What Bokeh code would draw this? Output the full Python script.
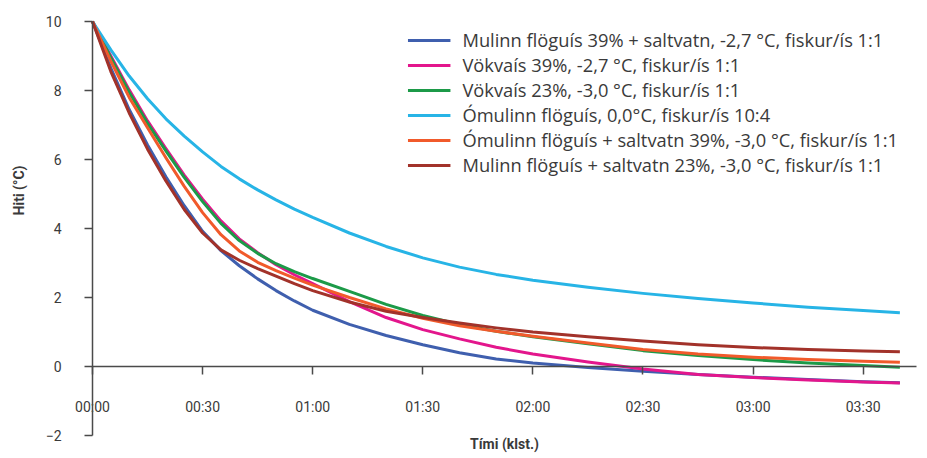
import math
from bokeh.plotting import figure
from bokeh.models import Range1d, FixedTicker, Legend, LegendItem, Label
from bokeh.embed import file_html
from bokeh.resources import INLINE

# time in minutes since start
time_min = [0, 5, 10, 15, 20, 25, 30, 35, 40, 45, 50, 55, 60, 70, 80, 90, 100,
            110, 120, 135, 150, 165, 180, 195, 210, 220]

series_labels = [
    "Mulinn flöguís 39% + saltvatn, -2,7 °C, fiskur/ís 1:1",
    "Vökvaís 39%, -2,7 °C, fiskur/ís 1:1",
    "Vökvaís 23%, -3,0 °C, fiskur/ís 1:1",
    "Ómulinn flöguís, 0,0°C, fiskur/ís 10:4",
    "Ómulinn flöguís + saltvatn 39%, -3,0 °C, fiskur/ís 1:1",
    "Mulinn flöguís + saltvatn 23%, -3,0 °C, fiskur/ís 1:1",
]

mulinn_39 = [10, 8.65, 7.45, 6.42, 5.5, 4.66, 3.92, 3.36, 2.92, 2.54, 2.2, 1.9, 1.63,
             1.22, 0.9, 0.63, 0.4, 0.22, 0.1, -0.03, -0.14, -0.23, -0.31, -0.38,
             -0.44, -0.47]
vokvais_39 = [10, 9.0, 8.02, 7.12, 6.32, 5.55, 4.85, 4.22, 3.7, 3.3, 2.95, 2.66, 2.4,
              1.88, 1.42, 1.07, 0.8, 0.56, 0.36, 0.13, -0.07, -0.23, -0.32, -0.39,
              -0.45, -0.48]
vokvais_23 = [10, 8.95, 7.95, 7.05, 6.25, 5.48, 4.78, 4.15, 3.65, 3.28, 2.98, 2.75, 2.55,
              2.18, 1.8, 1.48, 1.22, 1.02, 0.86, 0.66, 0.46, 0.32, 0.2, 0.1, 0.03,
              -0.02]
omulinn_0 = [10, 9.18, 8.42, 7.76, 7.18, 6.68, 6.22, 5.8, 5.44, 5.12, 4.83, 4.56, 4.32,
             3.87, 3.48, 3.15, 2.88, 2.67, 2.5, 2.3, 2.12, 1.97, 1.84, 1.72,
             1.62, 1.56]
omulinn_39 = [10, 8.85, 7.8, 6.92, 6.05, 5.22, 4.46, 3.82, 3.35, 3.02, 2.78, 2.56, 2.36,
              2.0, 1.67, 1.4, 1.18, 1.02, 0.88, 0.68, 0.49, 0.36, 0.27, 0.2, 0.15,
              0.12]
mulinn_23 = [10, 8.55, 7.35, 6.3, 5.38, 4.55, 3.87, 3.38, 3.08, 2.84, 2.62, 2.4, 2.2,
             1.87, 1.6, 1.42, 1.26, 1.12, 1.0, 0.86, 0.74, 0.63, 0.55, 0.49, 0.45,
             0.43]

series_values = [mulinn_39, vokvais_39, vokvais_23, omulinn_0, omulinn_39, mulinn_23]
series_colors = ["#3f5fae", "#e3168c", "#1c9a48", "#27b4e6", "#f15a2b", "#a2322a"]

x_tick_values = [0, 30, 60, 90, 120, 150, 180, 210]
x_tick_labels = ["00:00", "00:30", "01:00", "01:30", "02:00", "02:30", "03:00", "03:30"]
y_tick_values = [-2, 0, 2, 4, 6, 8, 10]
y_tick_labels = ["\u22122", "0", "2", "4", "6", "8", "10"]

x_title = "Tími (klst.)"
y_title = "Hiti (°C)"

FONT = "Roboto"
TEXT_COLOR = "#3a3a3a"
AXIS_COLOR = "#4a4a4a"

# the frame fills the whole figure; both axes sit at fixed data positions
p = figure(width=925, height=455,
           x_range=Range1d(-25.07, 226.98), y_range=Range1d(-2.58, 10.61),
           output_backend="svg", toolbar_location=None,
           min_border_left=0, min_border_top=0, min_border_right=0,
           min_border_bottom=0)
p.outline_line_color = None
p.xgrid.visible = False
p.ygrid.visible = False
p.background_fill_color = "white"

renderers = []
for vals, col in zip(series_values, series_colors):
    r = p.line(time_min, vals, line_color=col, line_width=3, line_join="round")
    renderers.append(r)

# x axis at y = 0
xa = p.xaxis[0]
xa.fixed_location = 0
xa.bounds = (0, 224.5)
xa.ticker = FixedTicker(ticks=x_tick_values)
xa.major_label_overrides = {v: l for v, l in zip(x_tick_values, x_tick_labels)}
xa.major_tick_out = 8
xa.major_tick_in = 0
xa.minor_tick_out = 0
xa.minor_tick_in = 0
xa.major_label_standoff = 24
xa.major_label_text_font = FONT
xa.major_label_text_font_size = "14px"
xa.major_label_text_color = TEXT_COLOR
xa.axis_line_color = AXIS_COLOR
xa.axis_line_width = 1.5
xa.major_tick_line_color = AXIS_COLOR
xa.major_tick_line_width = 1.5
xa.axis_label = x_title
xa.axis_label_text_font = FONT
xa.axis_label_text_font_style = "bold"
xa.axis_label_text_font_size = "14px"
xa.axis_label_text_color = TEXT_COLOR
xa.axis_label_standoff = 18

# y axis at x = 0
ya = p.yaxis[0]
ya.fixed_location = 0
ya.ticker = FixedTicker(ticks=y_tick_values)
ya.major_label_overrides = {v: l for v, l in zip(y_tick_values, y_tick_labels)}
ya.bounds = (-2, 10)
ya.major_tick_out = 8
ya.major_tick_in = 0
ya.minor_tick_out = 0
ya.minor_tick_in = 0
ya.major_label_standoff = 23
ya.major_label_text_font = FONT
ya.major_label_text_font_size = "14px"
ya.major_label_text_color = TEXT_COLOR
ya.axis_line_color = AXIS_COLOR
ya.axis_line_width = 1.5
ya.major_tick_line_color = AXIS_COLOR
ya.major_tick_line_width = 1.5

ylab = Label(x=-19.9, y=5.1, text=y_title, angle=math.pi / 2,
             text_align="center", text_baseline="middle",
             text_font=FONT, text_font_style="bold", text_font_size="14px",
             text_color=TEXT_COLOR)
p.add_layout(ylab)

legend = Legend(items=[LegendItem(label=lab, renderers=[r])
                       for lab, r in zip(series_labels, renderers)],
                location="top_right")
legend.border_line_color = None
legend.background_fill_alpha = 0
legend.glyph_width = 43
legend.glyph_height = 24
legend.label_height = 24
legend.spacing = 0
legend.label_standoff = 12
legend.padding = 0
legend.margin = 27
legend.label_text_font = "Open Sans"
legend.label_text_font_size = "18.3px"
legend.label_text_color = TEXT_COLOR
p.add_layout(legend)

open("out.html", "w").write(file_html(p, INLINE))
